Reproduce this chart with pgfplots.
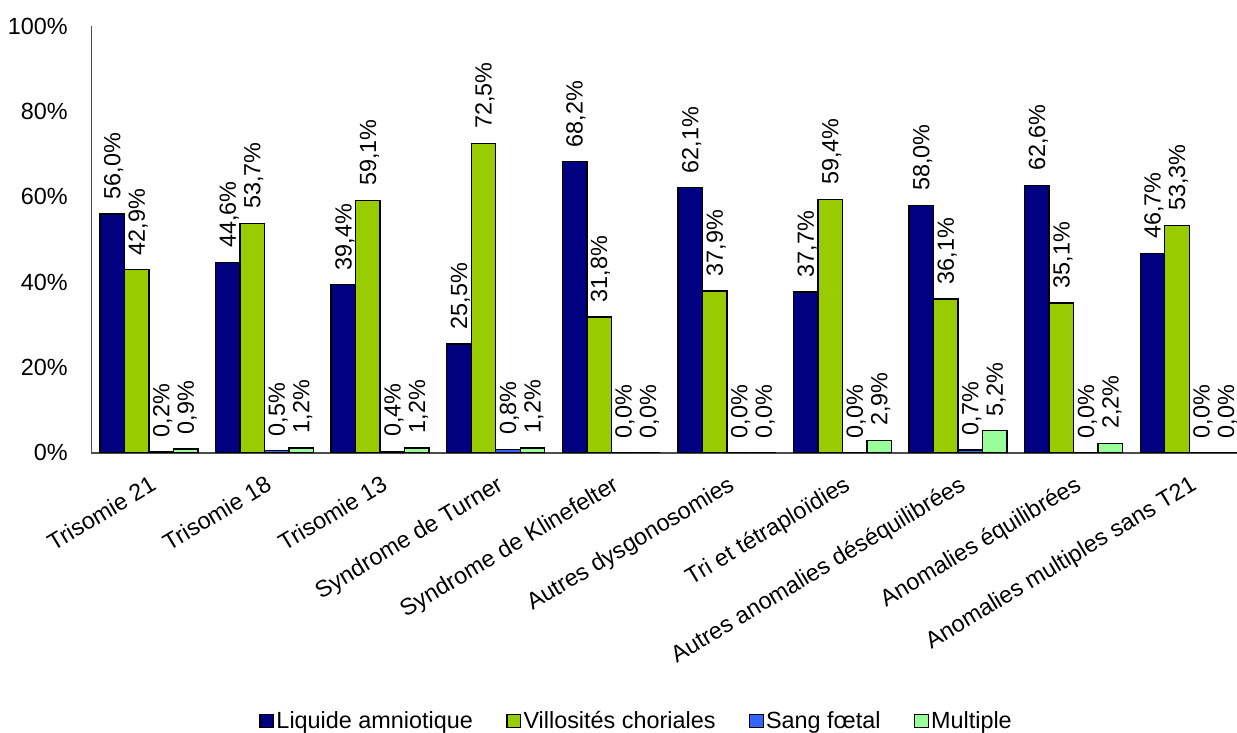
\documentclass[border=0pt]{standalone}
\usepackage{fontspec}
\setmainfont{Liberation Sans}
\usepackage{pgfplots}
\usepackage{pgfplotstable}
\pgfplotsset{compat=1.18}

\definecolor{amnio}{HTML}{000080}
\definecolor{villo}{HTML}{99CC00}
\definecolor{sang}{HTML}{3366FF}
\definecolor{multi}{HTML}{99FF99}

\newcommand{\chartfont}{\fontsize{11.7}{14}\selectfont}

% Part of each sampling method, by anomaly (%)
\pgfplotstableread{
x amnio villo sang multi
0 56.0 42.9 0.2 0.9
1 44.6 53.7 0.5 1.2
2 39.4 59.1 0.4 1.2
3 25.5 72.5 0.8 1.2
4 68.2 31.8 0.0 0.0
5 62.1 37.9 0.0 0.0
6 37.7 59.4 0.0 2.9
7 58.0 36.1 0.7 5.2
8 62.6 35.1 0.0 2.2
9 46.7 53.3 0.0 0.0
}\prelevements

\pgfplotsset{
  barre/.style={fill=#1, draw=black, line width=0.7pt,
    legend image code/.code={\draw[fill=#1, draw=black, line width=0.6pt] (0pt,-3.4pt) rectangle (6.8pt,3.4pt);}},
}

\begin{document}
\begin{tikzpicture}[font=\chartfont]
\path[use as bounding box] (-45.6pt,-140pt) rectangle (573pt,226.5pt);
\begin{axis}[
  at={(0,0)}, anchor=south west,
  scale only axis, width=578pt, height=213.5pt,
  ybar=0pt, bar width=0.212,
  xmin=-0.5, xmax=9.5, ymin=0, ymax=100,
  axis x line=bottom, axis y line=left,
  axis line style={-, black!70, line width=0.6pt},
  major tick length=0pt,
  xtick={0,...,9},
  xticklabels={Trisomie 21, Trisomie 18, Trisomie 13, Syndrome de Turner, Syndrome de Klinefelter, Autres dysgonosomies, Tri et tétraploïdies, Autres anomalies déséquilibrées, Anomalies équilibrées, Anomalies multiples sans T21},
  xticklabel style={yshift=-10.5pt, rotate=31, anchor=north east, inner sep=0pt, font=\chartfont},
  ytick={0,20,...,100},
  yticklabels={0\%,20\%,40\%,60\%,80\%,100\%},
  yticklabel style={xshift=-11.5pt, anchor=east, inner sep=0pt, font=\chartfont},
  point meta=y,
  nodes near coords={\pgfmathprintnumber[fixed,fixed zerofill,precision=1,use comma,assume math mode=true]{\pgfplotspointmeta}\%},
  every node near coord/.append style={rotate=90, anchor=west, inner xsep=7pt, inner ysep=0pt, text depth=0pt, font=\chartfont, black},
  legend style={at={(0.472,-0.628)}, anchor=center, draw=none, fill=none,
    legend columns=4, font=\chartfont,
    /tikz/every even column/.append style={column sep=15.5pt},
    nodes={inner xsep=1.2pt, inner ysep=1pt}},
]
\addplot[barre=amnio] table[x=x, y=amnio] {\prelevements};
\addplot[barre=villo] table[x=x, y=villo] {\prelevements};
\addplot[barre=sang]  table[x=x, y=sang]  {\prelevements};
\addplot[barre=multi] table[x=x, y=multi] {\prelevements};
\legend{Liquide amniotique, Villosités choriales, Sang fœtal, Multiple}
\end{axis}
\end{tikzpicture}
\end{document}
